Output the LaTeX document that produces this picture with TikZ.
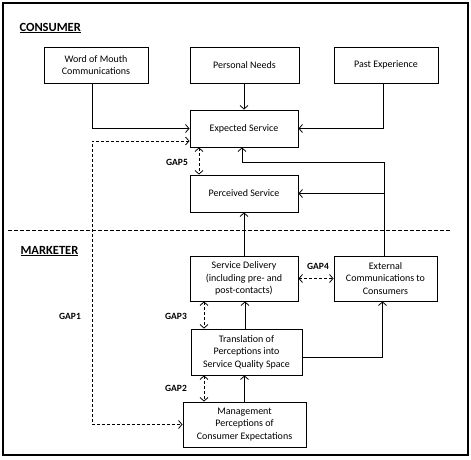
\documentclass[tikz,border=0pt]{standalone}
\usepackage{fontspec}
\setmainfont{Carlito}
\usetikzlibrary{arrows.meta,calc}
\begin{document}
\begin{tikzpicture}[x=1pt,y=-1pt,
  box/.style={draw,line width=0.9pt,align=center,inner sep=1pt,font=\fontsize{10}{12.5}\selectfont},
  arr/.style={line width=0.8pt,-{Straight Barb[length=3.5pt,width=8pt]}},
  gap/.style={line width=0.8pt,dashed,dash pattern=on 3pt off 2pt,{Straight Barb[length=3.5pt,width=8pt]}-{Straight Barb[length=3.5pt,width=8pt]}},
  gaplbl/.style={font=\fontsize{9.5}{11}\selectfont\bfseries},
  head/.style={font=\fontsize{12.5}{14}\selectfont\bfseries,anchor=west}]
\useasboundingbox (0,0) rectangle (471,459);
\fill[white] (0,0) rectangle (471,459);
\draw[line width=1.6pt] (3,3) rectangle (468,455);
\node[head] (cons) at (16,28) {\underline{CONSUMER}};
\node[head] (mark) at (17,251) {\underline{MARKETER}};
\node[box,minimum width=104pt,minimum height=36pt] (wom) at (96,65) {Word of Mouth\\Communications};
\node[box,minimum width=109pt,minimum height=36pt] (pn) at (244.5,65) {Personal Needs};
\node[box,minimum width=104pt,minimum height=36pt] (pe) at (386,65) {Past Experience};
\node[box,minimum width=108pt,minimum height=37pt] (es) at (244,128.5) {Expected Service};
\node[box,minimum width=108pt,minimum height=37pt] (ps) at (244,193.5) {Perceived Service};
\node[box,minimum width=108pt,minimum height=45pt] (sd) at (244,278.5) {Service Delivery\\(including pre- and\\post-contacts)};
\node[box,minimum width=103pt,minimum height=45pt] (ec) at (385.5,278.5) {External\\Communications to\\Consumers};
\node[box,minimum width=111pt,minimum height=46pt] (tr) at (246.5,352) {Translation of\\Perceptions into\\Service Quality Space};
\node[box,minimum width=123pt,minimum height=45pt] (mg) at (244.5,424.5) {Management\\Perceptions of\\Consumer Expectations};
\coordinate (gx) at (92,0);
\coordinate (rx) at (383,0);
\coordinate (j) at (384,162);
\coordinate (k) at (384,193.5);
\node[gaplbl] (g5) at (177,162) {GAP5};
\node[gaplbl] (g4) at (318,266) {GAP4};
\node[gaplbl] (g1) at (70,316) {GAP1};
\node[gaplbl] (g3) at (176,316) {GAP3};
\node[gaplbl] (g2) at (176,388) {GAP2};
% consumer arrows
\draw[arr] (wom.south -| gx) |- (es.west);
\draw[arr] (pn.south -| es.north) -- (es.north);
\draw[arr] (pe.south -| rx) |- (es.east);
% feedback from external communications
\draw[arr] (ec.north -| j) -- (j) -| ($(es.south)+(-2,0)$);
\draw[arr] (k) -- (ps.east);
\draw[arr] (sd.north) -- (ps.south);
\draw[arr] ($(tr.north)+(-1.5,0)$) -- ($(sd.south)+(1,0)$);
\draw[arr] (mg.north) -- (mg.north |- tr.south);
\draw[arr] ($(tr.east)+(0,5)$) -| ($(ec.south)+(-3,0)$);
% gaps
\draw[gap] ($(es.west)+(0,12.5)$) -| (gx |- mg.west) -- (mg.west);
\draw[gap] ($(es.south)+(-45,0)$) -- ($(ps.north)+(-45,0)$);
\draw[gap] (sd.east) -- (ec.west);
\draw[gap] ($(sd.south)+(-40,0)$) -- ($(tr.north)+(-42.5,0)$);
\draw[gap] ($(tr.south)+(-42.5,0)$) -- ($(mg.north)+(-40.5,0)$);
% divider
\draw[line width=0.9pt,dash pattern=on 3.5pt off 2.5pt] (8,230) -- (450,230);
\end{tikzpicture}
\end{document}
